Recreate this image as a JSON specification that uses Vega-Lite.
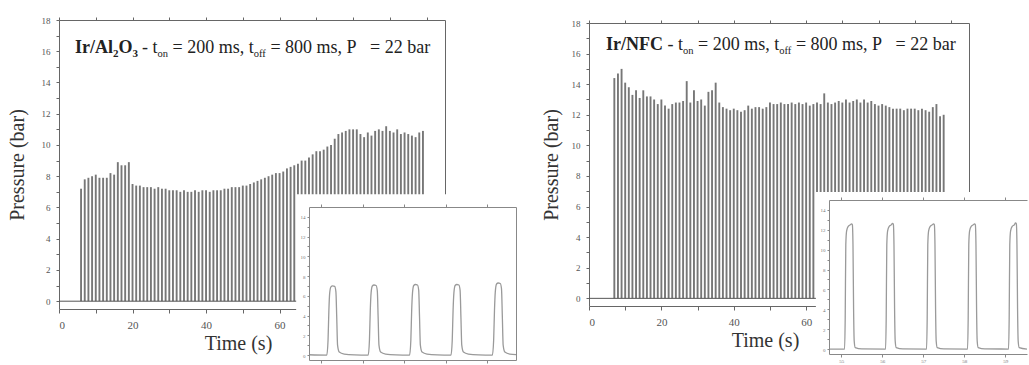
{
  "$schema": "https://vega.github.io/schema/vega-lite/v6.json",
  "background": "white",
  "padding": {"left": 7, "top": 16, "right": 0, "bottom": 0},
  "columns": 4,
  "align": "none",
  "bounds": "flush",
  "spacing": {"row": -286, "column": -140},
  "config": {
    "view": {"stroke": null},
    "axis": {"grid": false, "labelFont": "Liberation Serif", "labelColor": "#555", "domainColor": "#666", "tickColor": "#666", "titleFont": "Liberation Serif", "titleFontWeight": "normal", "titleColor": "#333"},
    "text": {"font": "Liberation Serif", "color": "#222"}
  },
  "concat": [
    {
      "width": 386, "height": 289,
      "layer": [
        {
          "data": {"values": [
            {"t":6,"p":7.2},{"t":7,"p":7.8},{"t":8,"p":7.9},{"t":9,"p":8.0},{"t":10,"p":8.1},{"t":11,"p":7.9},{"t":12,"p":7.9},{"t":13,"p":7.9},{"t":14,"p":8.2},{"t":15,"p":8.1},
            {"t":16,"p":8.9},{"t":17,"p":8.7},{"t":18,"p":8.7},{"t":19,"p":8.9},{"t":20,"p":7.5},{"t":21,"p":7.4},{"t":22,"p":7.4},{"t":23,"p":7.3},{"t":24,"p":7.3},{"t":25,"p":7.3},
            {"t":26,"p":7.2},{"t":27,"p":7.3},{"t":28,"p":7.2},{"t":29,"p":7.2},{"t":30,"p":7.1},{"t":31,"p":7.1},{"t":32,"p":7.1},{"t":33,"p":7.0},{"t":34,"p":7.1},{"t":35,"p":7.0},
            {"t":36,"p":7.0},{"t":37,"p":7.1},{"t":38,"p":7.0},{"t":39,"p":7.1},{"t":40,"p":7.1},{"t":41,"p":7.0},{"t":42,"p":7.1},{"t":43,"p":7.1},{"t":44,"p":7.1},{"t":45,"p":7.2},
            {"t":46,"p":7.2},{"t":47,"p":7.3},{"t":48,"p":7.3},{"t":49,"p":7.3},{"t":50,"p":7.4},{"t":51,"p":7.4},{"t":52,"p":7.5},{"t":53,"p":7.6},{"t":54,"p":7.7},{"t":55,"p":7.8},
            {"t":56,"p":7.9},{"t":57,"p":8.0},{"t":58,"p":8.1},{"t":59,"p":8.2},{"t":60,"p":8.2},{"t":61,"p":8.3},{"t":62,"p":8.5},{"t":63,"p":8.6},{"t":64,"p":8.7},{"t":65,"p":8.8},
            {"t":66,"p":9.0},{"t":67,"p":9.0},{"t":68,"p":9.2},{"t":69,"p":9.4},{"t":70,"p":9.6},{"t":71,"p":9.6},{"t":72,"p":9.7},{"t":73,"p":9.9},{"t":74,"p":10.0},{"t":75,"p":10.4},
            {"t":76,"p":10.7},{"t":77,"p":10.8},{"t":78,"p":10.9},{"t":79,"p":11.0},{"t":80,"p":11.0},{"t":81,"p":11.0},{"t":82,"p":10.7},{"t":83,"p":10.5},{"t":84,"p":10.8},{"t":85,"p":10.6},
            {"t":86,"p":10.9},{"t":87,"p":11.0},{"t":88,"p":10.9},{"t":89,"p":11.2},{"t":90,"p":10.9},{"t":91,"p":10.8},{"t":92,"p":11.0},{"t":93,"p":10.7},{"t":94,"p":10.8},{"t":95,"p":10.7},
            {"t":96,"p":10.6},{"t":97,"p":10.5},{"t":98,"p":10.8},{"t":99,"p":10.9}
          ]},
          "mark": {"type": "rule", "color": "#777777", "strokeWidth": 1.9},
          "encoding": {
            "x": {"field": "t", "type": "quantitative", "scale": {"domain": [0, 105], "nice": false, "zero": false},
              "axis": {"orient": "bottom", "values": [0,10,20,30,40,50,60,70,80,90,100], "labelExpr": "datum.value % 20 ? '' : datum.label", "tickSize": 4, "labelFontSize": 11, "labelPadding": 6, "title": "Time (s)", "titleFontSize": 20, "titlePadding": 3, "titleX": 179}},
            "y": {"field": "p", "type": "quantitative", "scale": {"domain": [-0.5, 18], "nice": false, "zero": false},
              "axis": {"orient": "left", "values": [0,1,2,3,4,5,6,7,8,9,10,11,12,13,14,15,16,17,18], "labelExpr": "datum.value % 2 ? '' : datum.label", "tickSize": 3, "labelFontSize": 9, "labelPadding": 6, "title": "Pressure (bar)", "titleFontSize": 20, "titlePadding": 14}},
            "y2": {"datum": 0}
          }
        },
        {
          "data": {"values": [{}]},
          "mark": {"type": "rule", "color": "#555", "strokeWidth": 1},
          "encoding": {
            "x": {"datum": 0, "type": "quantitative", "axis": {"orient": "top", "values": [0,10,20,30,40,50,60,70,80,90,100], "labels": false, "tickSize": 3, "title": null}},
            "x2": {"datum": 99.3},
            "y": {"datum": 0, "type": "quantitative", "axis": {"orient": "right", "ticks": false, "labels": false, "title": null}}
          }
        },
        {"data": {"values": [{}]}, "mark": {"type": "text", "text": "Ir/Al", "align": "left", "baseline": "alphabetic", "dx": 0, "fontSize": 18, "fontWeight": "bold"}, "encoding": {"x": {"datum": 4.35, "type": "quantitative", "axis": null}, "y": {"datum": 15.88, "type": "quantitative", "axis": null}}},
        {"data": {"values": [{}]}, "mark": {"type": "text", "text": "2", "align": "left", "baseline": "alphabetic", "dx": 38.0, "dy": 4, "fontSize": 11, "fontWeight": "bold"}, "encoding": {"x": {"datum": 4.35, "type": "quantitative", "axis": null}, "y": {"datum": 15.88, "type": "quantitative", "axis": null}}},
        {"data": {"values": [{}]}, "mark": {"type": "text", "text": "O", "align": "left", "baseline": "alphabetic", "dx": 43.5, "fontSize": 18, "fontWeight": "bold"}, "encoding": {"x": {"datum": 4.35, "type": "quantitative", "axis": null}, "y": {"datum": 15.88, "type": "quantitative", "axis": null}}},
        {"data": {"values": [{}]}, "mark": {"type": "text", "text": "3", "align": "left", "baseline": "alphabetic", "dx": 57.5, "dy": 4, "fontSize": 11, "fontWeight": "bold"}, "encoding": {"x": {"datum": 4.35, "type": "quantitative", "axis": null}, "y": {"datum": 15.88, "type": "quantitative", "axis": null}}},
        {"data": {"values": [{}]}, "mark": {"type": "text", "text": "- t", "align": "left", "baseline": "alphabetic", "dx": 67.0, "fontSize": 18}, "encoding": {"x": {"datum": 4.35, "type": "quantitative", "axis": null}, "y": {"datum": 15.88, "type": "quantitative", "axis": null}}},
        {"data": {"values": [{}]}, "mark": {"type": "text", "text": "on", "align": "left", "baseline": "alphabetic", "dx": 82.5, "dy": 4, "fontSize": 10.5}, "encoding": {"x": {"datum": 4.35, "type": "quantitative", "axis": null}, "y": {"datum": 15.88, "type": "quantitative", "axis": null}}},
        {"data": {"values": [{}]}, "mark": {"type": "text", "text": "= 200 ms, t", "align": "left", "baseline": "alphabetic", "dx": 97.5, "fontSize": 18}, "encoding": {"x": {"datum": 4.35, "type": "quantitative", "axis": null}, "y": {"datum": 15.88, "type": "quantitative", "axis": null}}},
        {"data": {"values": [{}]}, "mark": {"type": "text", "text": "off", "align": "left", "baseline": "alphabetic", "dx": 178.7, "dy": 4, "fontSize": 10.5}, "encoding": {"x": {"datum": 4.35, "type": "quantitative", "axis": null}, "y": {"datum": 15.88, "type": "quantitative", "axis": null}}},
        {"data": {"values": [{}]}, "mark": {"type": "text", "text": "= 800 ms, P", "align": "left", "baseline": "alphabetic", "dx": 195.4, "fontSize": 18}, "encoding": {"x": {"datum": 4.35, "type": "quantitative", "axis": null}, "y": {"datum": 15.88, "type": "quantitative", "axis": null}}},
        {"data": {"values": [{}]}, "mark": {"type": "text", "text": "= 22 bar", "align": "left", "baseline": "alphabetic", "dx": 295.1, "fontSize": 18}, "encoding": {"x": {"datum": 4.35, "type": "quantitative", "axis": null}, "y": {"datum": 15.88, "type": "quantitative", "axis": null}}}
      ],
      "resolve": {"axis": {"x": "independent", "y": "independent"}}
    },
    {"width": 1, "height": 1, "data": {"values": []}, "mark": {"type": "point"}, "encoding": {}},
    {"width": 1, "height": 1, "data": {"values": []}, "mark": {"type": "point"}, "encoding": {}},
    {"width": 1, "height": 1, "data": {"values": []}, "mark": {"type": "point"}, "encoding": {}},
    {"width": 390, "height": 1, "data": {"values": []}, "mark": {"type": "point"}, "encoding": {}},
    {"width": 420, "height": 463, "data": {"values": []}, "mark": {"type": "point"}, "encoding": {}},
    {
      "width": 380, "height": 283,
      "layer": [
        {
          "data": {"values": [
            {"t":7,"p":14.4},{"t":8,"p":14.7},{"t":9,"p":15.0},{"t":10,"p":14.1},{"t":11,"p":13.8},{"t":12,"p":13.3},{"t":13,"p":13.6},{"t":14,"p":13.1},{"t":15,"p":13.6},{"t":16,"p":13.2},
            {"t":17,"p":13.2},{"t":18,"p":13.0},{"t":19,"p":12.7},{"t":20,"p":13.0},{"t":21,"p":12.6},{"t":22,"p":12.4},{"t":23,"p":12.7},{"t":24,"p":12.8},{"t":25,"p":12.8},{"t":26,"p":12.9},
            {"t":27,"p":14.2},{"t":28,"p":12.8},{"t":29,"p":13.6},{"t":30,"p":12.9},{"t":31,"p":13.0},{"t":32,"p":12.6},{"t":33,"p":13.5},{"t":34,"p":13.6},{"t":35,"p":14.1},{"t":36,"p":12.8},
            {"t":37,"p":12.5},{"t":38,"p":12.4},{"t":39,"p":12.3},{"t":40,"p":12.4},{"t":41,"p":12.3},{"t":42,"p":12.2},{"t":43,"p":12.3},{"t":44,"p":12.6},{"t":45,"p":12.4},{"t":46,"p":12.5},
            {"t":47,"p":12.5},{"t":48,"p":12.4},{"t":49,"p":12.5},{"t":50,"p":12.8},{"t":51,"p":12.7},{"t":52,"p":12.7},{"t":53,"p":12.8},{"t":54,"p":12.7},{"t":55,"p":12.7},{"t":56,"p":12.8},
            {"t":57,"p":12.7},{"t":58,"p":12.8},{"t":59,"p":12.7},{"t":60,"p":12.8},{"t":61,"p":12.6},{"t":62,"p":12.7},{"t":63,"p":12.8},{"t":64,"p":12.7},{"t":65,"p":13.4},{"t":66,"p":12.8},
            {"t":67,"p":12.7},{"t":68,"p":12.8},{"t":69,"p":12.9},{"t":70,"p":12.8},{"t":71,"p":13.0},{"t":72,"p":12.8},{"t":73,"p":12.9},{"t":74,"p":13.0},{"t":75,"p":12.8},{"t":76,"p":13.0},
            {"t":77,"p":12.8},{"t":78,"p":12.9},{"t":79,"p":12.7},{"t":80,"p":12.6},{"t":81,"p":12.7},{"t":82,"p":12.6},{"t":83,"p":12.5},{"t":84,"p":12.4},{"t":85,"p":12.4},{"t":86,"p":12.4},
            {"t":87,"p":12.3},{"t":88,"p":12.4},{"t":89,"p":12.4},{"t":90,"p":12.4},{"t":91,"p":12.3},{"t":92,"p":12.4},{"t":93,"p":12.3},{"t":94,"p":12.2},{"t":95,"p":12.5},{"t":96,"p":12.7},
            {"t":97,"p":11.9},{"t":98,"p":12.0}
          ]},
          "mark": {"type": "rule", "color": "#777777", "strokeWidth": 1.9},
          "encoding": {
            "x": {"field": "t", "type": "quantitative", "scale": {"domain": [0, 105], "nice": false, "zero": false},
              "axis": {"orient": "bottom", "values": [0,10,20,30,40,50,60,70,80,90,100], "labelExpr": "datum.value % 20 ? '' : datum.label", "tickSize": 4, "labelFontSize": 11, "labelPadding": 6, "title": "Time (s)", "titleFontSize": 20, "titlePadding": 3, "titleX": 176}},
            "y": {"field": "p", "type": "quantitative", "scale": {"domain": [-0.5, 18], "nice": false, "zero": false},
              "axis": {"orient": "left", "values": [0,1,2,3,4,5,6,7,8,9,10,11,12,13,14,15,16,17,18], "labelExpr": "datum.value % 2 ? '' : datum.label", "tickSize": 3, "labelFontSize": 9, "labelPadding": 6, "title": "Pressure (bar)", "titleFontSize": 20, "titlePadding": 10}},
            "y2": {"datum": 0}
          }
        },
        {
          "data": {"values": [{}]},
          "mark": {"type": "rule", "color": "#555", "strokeWidth": 1},
          "encoding": {
            "x": {"datum": 0, "type": "quantitative", "axis": {"orient": "top", "values": [0,10,20,30,40,50,60,70,80,90,100], "labels": false, "tickSize": 3, "title": null}},
            "x2": {"datum": 98.6},
            "y": {"datum": 0, "type": "quantitative", "axis": {"orient": "right", "ticks": false, "labels": false, "title": null}}
          }
        },
        {"data": {"values": [{}]}, "mark": {"type": "text", "text": "Ir/NFC", "align": "left", "baseline": "alphabetic", "dx": 0, "fontSize": 18, "fontWeight": "bold"}, "encoding": {"x": {"datum": 4.7, "type": "quantitative", "axis": null}, "y": {"datum": 16.24, "type": "quantitative", "axis": null}}},
        {"data": {"values": [{}]}, "mark": {"type": "text", "text": "- t", "align": "left", "baseline": "alphabetic", "dx": 61.5, "fontSize": 18}, "encoding": {"x": {"datum": 4.7, "type": "quantitative", "axis": null}, "y": {"datum": 16.24, "type": "quantitative", "axis": null}}},
        {"data": {"values": [{}]}, "mark": {"type": "text", "text": "on", "align": "left", "baseline": "alphabetic", "dx": 77.0, "dy": 4, "fontSize": 10.5}, "encoding": {"x": {"datum": 4.7, "type": "quantitative", "axis": null}, "y": {"datum": 16.24, "type": "quantitative", "axis": null}}},
        {"data": {"values": [{}]}, "mark": {"type": "text", "text": "= 200 ms, t", "align": "left", "baseline": "alphabetic", "dx": 92.0, "fontSize": 18}, "encoding": {"x": {"datum": 4.7, "type": "quantitative", "axis": null}, "y": {"datum": 16.24, "type": "quantitative", "axis": null}}},
        {"data": {"values": [{}]}, "mark": {"type": "text", "text": "off", "align": "left", "baseline": "alphabetic", "dx": 173.2, "dy": 4, "fontSize": 10.5}, "encoding": {"x": {"datum": 4.7, "type": "quantitative", "axis": null}, "y": {"datum": 16.24, "type": "quantitative", "axis": null}}},
        {"data": {"values": [{}]}, "mark": {"type": "text", "text": "= 800 ms, P", "align": "left", "baseline": "alphabetic", "dx": 189.9, "fontSize": 18}, "encoding": {"x": {"datum": 4.7, "type": "quantitative", "axis": null}, "y": {"datum": 16.24, "type": "quantitative", "axis": null}}},
        {"data": {"values": [{}]}, "mark": {"type": "text", "text": "= 22 bar", "align": "left", "baseline": "alphabetic", "dx": 289.6, "fontSize": 18}, "encoding": {"x": {"datum": 4.7, "type": "quantitative", "axis": null}, "y": {"datum": 16.24, "type": "quantitative", "axis": null}}}
      ],
      "resolve": {"axis": {"x": "independent", "y": "independent"}}
    },
    {"width": 1, "height": 1, "data": {"values": []}, "mark": {"type": "point"}, "encoding": {}},
    {"width": 1, "height": 293, "data": {"values": []}, "mark": {"type": "point"}, "encoding": {}},
    {"width": 1, "height": 1, "data": {"values": []}, "mark": {"type": "point"}, "encoding": {}},
    {"width": 1, "height": 1, "data": {"values": []}, "mark": {"type": "point"}, "encoding": {}},
    {
      "width": 198, "height": 154,
      "layer": [
        {
          "data": {"values": [{}]},
          "mark": {"type": "rect", "color": "white"},
          "encoding": {
            "x": {"datum": 54.38, "type": "quantitative", "scale": {"domain": [54.7, 59.53], "nice": false, "zero": false},
              "axis": {"orient": "top", "values": [55,56,57,58,59], "labels": false, "tickSize": 3, "title": null, "zindex": 1, "domainColor": "#888", "tickColor": "#888"}},
            "x2": {"datum": 59.53},
            "y": {"datum": -1.7, "type": "quantitative", "scale": {"domain": [-0.5, 15], "nice": false, "zero": false}, "axis": null},
            "y2": {"datum": 15.8}
          }
        },
        {
          "data": {"values": [
            {"t":54.7,"p":0},
            {"t":55.08,"p":0},{"t":55.095,"p":3},{"t":55.11,"p":10.5},{"t":55.13,"p":11.9},{"t":55.17,"p":12.35},{"t":55.22,"p":12.5},{"t":55.25,"p":12.6},{"t":55.27,"p":12.5},{"t":55.285,"p":10.5},{"t":55.3,"p":4},{"t":55.315,"p":0.8},{"t":55.34,"p":0.15},{"t":55.5,"p":0.02},
            {"t":56.08,"p":0},{"t":56.095,"p":3},{"t":56.11,"p":10.5},{"t":56.13,"p":11.9},{"t":56.17,"p":12.35},{"t":56.22,"p":12.5},{"t":56.25,"p":12.65},{"t":56.27,"p":12.55},{"t":56.285,"p":10.5},{"t":56.3,"p":4},{"t":56.315,"p":0.8},{"t":56.34,"p":0.15},{"t":56.5,"p":0.02},
            {"t":57.08,"p":0},{"t":57.095,"p":3},{"t":57.11,"p":10.5},{"t":57.13,"p":11.9},{"t":57.17,"p":12.35},{"t":57.22,"p":12.5},{"t":57.25,"p":12.6},{"t":57.27,"p":12.5},{"t":57.285,"p":10.5},{"t":57.3,"p":4},{"t":57.315,"p":0.8},{"t":57.34,"p":0.15},{"t":57.5,"p":0.02},
            {"t":58.08,"p":0},{"t":58.095,"p":3},{"t":58.11,"p":10.5},{"t":58.13,"p":11.9},{"t":58.17,"p":12.35},{"t":58.22,"p":12.5},{"t":58.25,"p":12.6},{"t":58.27,"p":12.5},{"t":58.285,"p":10.5},{"t":58.3,"p":4},{"t":58.315,"p":0.8},{"t":58.34,"p":0.15},{"t":58.5,"p":0.02},
            {"t":59.08,"p":0},{"t":59.095,"p":3},{"t":59.11,"p":10.5},{"t":59.13,"p":11.9},{"t":59.17,"p":12.35},{"t":59.22,"p":12.5},{"t":59.25,"p":12.7},{"t":59.27,"p":12.6},{"t":59.285,"p":10.5},{"t":59.3,"p":4},{"t":59.315,"p":0.8},{"t":59.34,"p":0.15},{"t":59.53,"p":0.0}
          ]},
          "mark": {"type": "line", "color": "#9a9a9a", "strokeWidth": 1.3, "interpolate": "monotone"},
          "encoding": {
            "x": {"field": "t", "type": "quantitative", "axis": {"orient": "bottom", "values": [55,56,57,58,59], "tickSize": 3, "labelFontSize": 5, "labelPadding": 1, "labelColor": "#777", "title": null, "zindex": 1, "domainColor": "#888", "tickColor": "#888"}},
            "y": {"field": "p", "type": "quantitative", "axis": {"orient": "left", "values": [0,1,2,3,4,5,6,7,8,9,10,11,12,13,14], "labelExpr": "datum.value % 2 ? '' : datum.label", "tickSize": 2, "labelFontSize": 5, "labelPadding": 2, "labelColor": "#777", "title": null, "zindex": 1, "domainColor": "#888", "tickColor": "#888"}}
          }
        }
      ],
      "resolve": {"axis": {"x": "independent", "y": "independent"}}
    },
    {"width": 1, "height": 1, "data": {"values": []}, "mark": {"type": "point"}, "encoding": {}},
    {
      "width": 207, "height": 153,
      "layer": [
        {
          "data": {"values": [{}]},
          "mark": {"type": "rect", "color": "white"},
          "encoding": {
            "x": {"datum": 54.39, "type": "quantitative", "scale": {"domain": [54.7, 59.7], "nice": false, "zero": false},
              "axis": {"orient": "top", "values": [55,56,57,58,59], "labels": false, "tickSize": 3, "title": null, "zindex": 1, "domainColor": "#888", "tickColor": "#888"}},
            "x2": {"datum": 59.75},
            "y": {"datum": -1.1, "type": "quantitative", "scale": {"domain": [-0.5, 15], "nice": false, "zero": false},
              "axis": {"orient": "right", "ticks": false, "labels": false, "title": null, "zindex": 1, "domainColor": "#888"}},
            "y2": {"datum": 16.3}
          }
        },
        {
          "data": {"values": [
            {"t":54.7,"p":0.03},
            {"t":55.13,"p":0},{"t":55.16,"p":1.5},{"t":55.18,"p":4.5},{"t":55.2,"p":6.3},{"t":55.23,"p":6.9},{"t":55.27,"p":7.0},{"t":55.32,"p":6.95},{"t":55.35,"p":6.4},{"t":55.37,"p":3.8},{"t":55.39,"p":1.0},{"t":55.43,"p":0.3},{"t":55.55,"p":0.1},{"t":55.8,"p":0.02},
            {"t":56.13,"p":0},{"t":56.16,"p":1.5},{"t":56.18,"p":4.5},{"t":56.2,"p":6.3},{"t":56.23,"p":7.0},{"t":56.27,"p":7.1},{"t":56.32,"p":7.05},{"t":56.35,"p":6.5},{"t":56.37,"p":3.8},{"t":56.39,"p":1.0},{"t":56.43,"p":0.3},{"t":56.55,"p":0.1},{"t":56.8,"p":0.02},
            {"t":57.13,"p":0},{"t":57.16,"p":1.5},{"t":57.18,"p":4.5},{"t":57.2,"p":6.3},{"t":57.23,"p":7.05},{"t":57.27,"p":7.15},{"t":57.32,"p":7.1},{"t":57.35,"p":6.55},{"t":57.37,"p":3.8},{"t":57.39,"p":1.0},{"t":57.43,"p":0.3},{"t":57.55,"p":0.1},{"t":57.8,"p":0.02},
            {"t":58.13,"p":0},{"t":58.16,"p":1.5},{"t":58.18,"p":4.5},{"t":58.2,"p":6.3},{"t":58.23,"p":7.05},{"t":58.27,"p":7.15},{"t":58.32,"p":7.1},{"t":58.35,"p":6.55},{"t":58.37,"p":3.8},{"t":58.39,"p":1.0},{"t":58.43,"p":0.3},{"t":58.55,"p":0.1},{"t":58.8,"p":0.02},
            {"t":59.13,"p":0},{"t":59.16,"p":1.5},{"t":59.18,"p":4.5},{"t":59.2,"p":6.4},{"t":59.23,"p":7.2},{"t":59.27,"p":7.3},{"t":59.32,"p":7.25},{"t":59.35,"p":6.7},{"t":59.37,"p":3.9},{"t":59.39,"p":1.0},{"t":59.43,"p":0.3},{"t":59.55,"p":0.1},{"t":59.7,"p":0.05}
          ]},
          "mark": {"type": "line", "color": "#9a9a9a", "strokeWidth": 1.3, "interpolate": "monotone"},
          "encoding": {
            "x": {"field": "t", "type": "quantitative", "axis": {"orient": "bottom", "values": [55,56,57,58,59], "labels": false, "tickSize": 3, "title": null, "zindex": 1, "domainColor": "#888", "tickColor": "#888"}},
            "y": {"field": "p", "type": "quantitative", "axis": {"orient": "left", "values": [0,1,2,3,4,5,6,7,8,9,10,11,12,13,14], "labelExpr": "datum.value % 2 ? '' : datum.label", "tickSize": 2, "labelFontSize": 5, "labelPadding": 2, "labelColor": "#777", "title": null, "zindex": 1, "domainColor": "#888", "tickColor": "#888"}}
          }
        }
      ],
      "resolve": {"axis": {"x": "independent", "y": "independent"}}
    }
  ]
}
